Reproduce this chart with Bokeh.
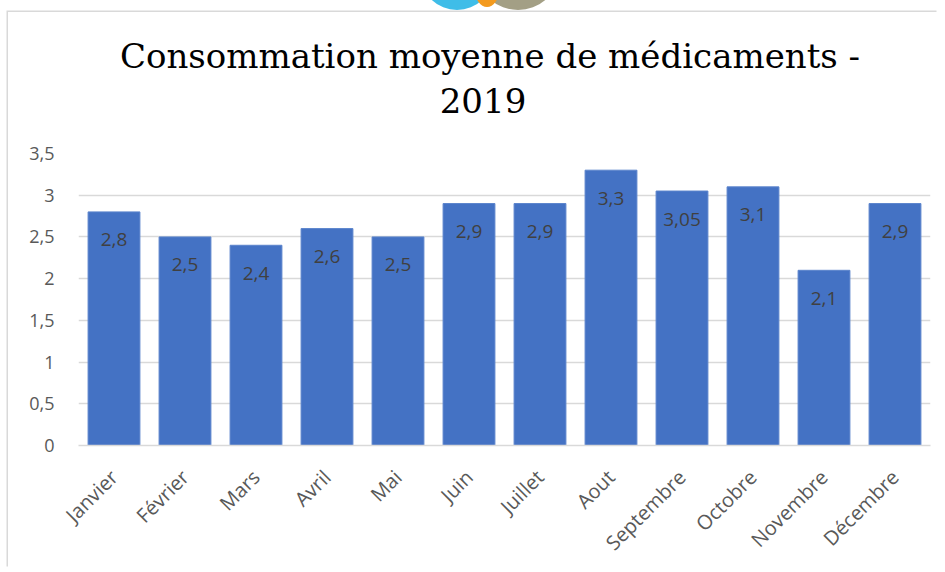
import math
from bokeh.plotting import figure
from bokeh.layouts import column
from bokeh.models import ColumnDataSource, FixedTicker, Range1d, FactorRange, Div
from bokeh.core.properties import value
from bokeh.embed import file_html
from bokeh.resources import INLINE

months = ["Janvier", "Février", "Mars", "Avril", "Mai", "Juin", "Juillet",
          "Aout", "Septembre", "Octobre", "Novembre", "Décembre"]
values = [2.8, 2.5, 2.4, 2.6, 2.5, 2.9, 2.9, 3.3, 3.05, 3.1, 2.1, 2.9]
value_labels = ["2,8", "2,5", "2,4", "2,6", "2,5", "2,9", "2,9", "3,3", "3,05", "3,1", "2,1", "2,9"]
y_ticks = [0, 0.5, 1, 1.5, 2, 2.5, 3, 3.5]
y_tick_labels = ["0", "0,5", "1", "1,5", "2", "2,5", "3", "3,5"]
title_line1 = "Consommation moyenne de médicaments -"
title_line2 = "2019"

src = ColumnDataSource(dict(month=months, val=values, lab=value_labels))

logo_svg = (
    '<svg style="position:absolute; left:392px; top:-12px;" width="180" height="12" '
    'viewBox="400 0 180 12">'
    '<ellipse cx="518" cy="-25" rx="39" ry="35" fill="#A39F85"/>'
    '<ellipse cx="457" cy="-25" rx="36" ry="35" fill="#3FBDE8"/>'
    '<ellipse cx="487" cy="-10" rx="12" ry="17" fill="#F39A1E"/>'
    '</svg>'
)
title_html = (
    '<div style="position:relative; width:930px;">' + logo_svg +
    '<div style="padding-top:22px; margin-left:34px; width:896px; text-align:center; '
    "font-family:'DejaVu Serif'; font-size:34px; line-height:45px; color:black; "
    'white-space:nowrap;">' + title_line1 + '<br>'
    '<span style="position:relative; left:-7px;">' + title_line2 + '</span></div></div>'
)
title_div = Div(text=title_html, width=930, height=110, margin=0)

p = figure(x_range=FactorRange(*months, range_padding=0), y_range=Range1d(0, 3.5),
           width=930, height=446, output_backend="svg", toolbar_location=None,
           min_border_left=70, min_border_right=8, min_border_top=31, min_border_bottom=117)
p.title = None
p.outline_line_color = None
p.background_fill_color = "white"
p.border_fill_color = "white"

p.vbar(x="month", top="val", width=0.73, source=src, fill_color="#4472C4",
       line_color="#5B84CC", line_width=1)
p.text(x="month", y="val", text="lab", source=src, text_align="center",
       text_baseline="middle", y_offset=28, text_color="#404040",
       text_font=value("Open Sans"), text_font_size="19px")

p.yaxis.ticker = FixedTicker(ticks=y_ticks)
p.yaxis.major_label_overrides = {t: l for t, l in zip(y_ticks, y_tick_labels)}
p.yaxis.axis_line_color = None
p.yaxis.major_tick_line_color = None
p.yaxis.minor_tick_line_color = None
p.yaxis.major_tick_out = 0
p.yaxis.major_tick_in = 0
p.yaxis.major_label_standoff = 24
p.yaxis.major_label_text_font = "Open Sans"
p.yaxis.major_label_text_font_size = "18px"
p.yaxis.major_label_text_color = "#595959"

p.xaxis.axis_line_color = "#d9d9d9"
p.xaxis.axis_line_width = 1.5
p.xaxis.major_tick_line_color = None
p.xaxis.minor_tick_line_color = None
p.xaxis.major_tick_out = 0
p.xaxis.major_tick_in = 0
p.xaxis.major_label_orientation = math.pi / 4
p.xaxis.major_label_standoff = 28
p.xaxis.major_label_text_font = "Open Sans"
p.xaxis.major_label_text_font_size = "20px"
p.xaxis.major_label_text_color = "#595959"

p.xgrid.grid_line_color = None
p.ygrid.grid_line_color = "#d9d9d9"
p.ygrid.grid_line_width = 1.3

layout = column(title_div, p, spacing=0,
                styles={"margin-left": "8px", "margin-top": "12px",
                        "box-shadow": "-1.5px -1.5px 0 0 #d9d9d9",
                        "background-color": "white"})

open("out.html", "w").write(file_html(layout, INLINE))
